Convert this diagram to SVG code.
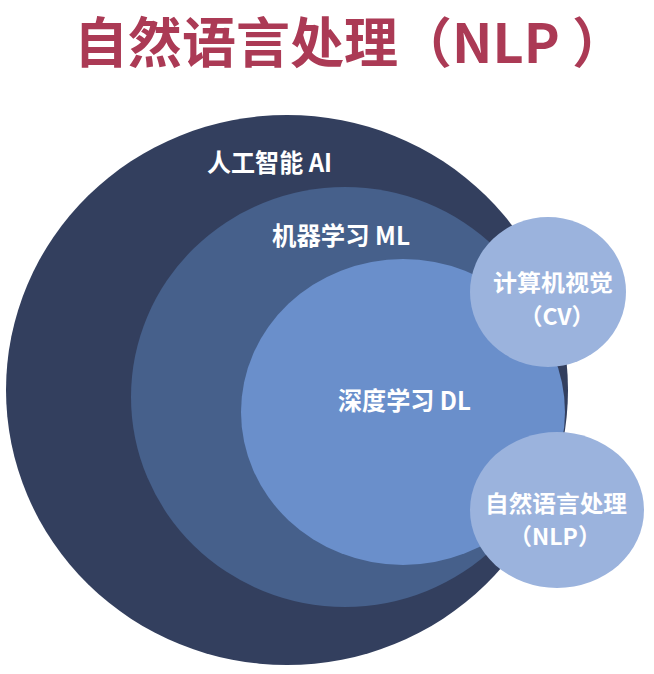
<svg xmlns="http://www.w3.org/2000/svg" width="654" height="674" viewBox="0 0 654 674">
<style>
.t{font-family:"Noto Sans CJK SC","Noto Sans",sans-serif;font-weight:bold;fill:#ffffff;text-anchor:middle}
.title{font-family:"Noto Sans CJK SC","Noto Sans",sans-serif;font-weight:bold;fill:#ab3a55}
</style>
<rect width="654" height="674" fill="#ffffff"/>
<text class="title" x="74" y="63" font-size="54">自然语言处理<tspan x="398">（</tspan>NLP<tspan x="572">）</tspan></text>
<g id="ai">
<ellipse cx="287" cy="390" rx="281" ry="275" fill="#333f5e"/>
<text class="t" x="269.5" y="172" font-size="25" textLength="125" lengthAdjust="spacingAndGlyphs">人工智能 AI</text>
</g>
<g id="ml">
<ellipse cx="345" cy="397" rx="214" ry="210" fill="#46608b"/>
<text class="t" x="341" y="245" font-size="25" textLength="138" lengthAdjust="spacingAndGlyphs">机器学习 ML</text>
</g>
<g id="dl">
<ellipse cx="403" cy="412" rx="162" ry="153" fill="#6a8fcb"/>
<text class="t" x="404.5" y="410" font-size="25" textLength="133" lengthAdjust="spacingAndGlyphs">深度学习 DL</text>
</g>
<g id="cv">
<ellipse cx="548" cy="292" rx="78" ry="75" fill="#9bb3dd"/>
<text class="t" x="553" y="291" font-size="23" textLength="120" lengthAdjust="spacingAndGlyphs">计算机视觉</text>
<text class="t" x="557" y="325" font-size="23">（CV）</text>
</g>
<g id="nlp">
<ellipse cx="557" cy="510" rx="87" ry="78" fill="#9bb3dd"/>
<text class="t" x="556" y="512" font-size="23" textLength="142" lengthAdjust="spacingAndGlyphs">自然语言处理</text>
<text class="t" x="555" y="545" font-size="23">（NLP）</text>
</g>
<g id="connectors"></g>
</svg>
